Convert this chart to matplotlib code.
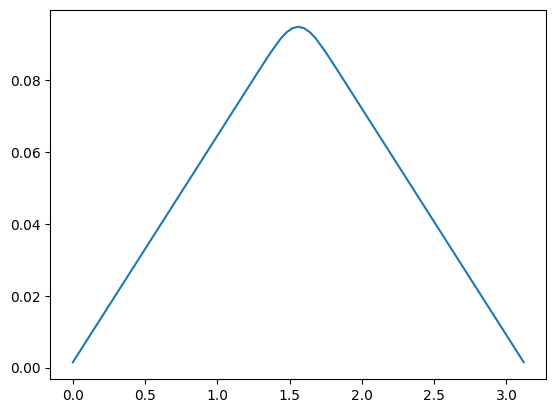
import matplotlib
matplotlib.use("Agg")
import matplotlib.pyplot as plt

# Values
x_vals = [0.00, 0.20, 0.40, 0.60, 0.80, 1.00, 1.20, 1.30, 1.36,
          1.40, 1.44, 1.48, 1.52, 1.56, 1.60, 1.64, 1.68, 1.72,
          1.76, 1.82, 1.92, 2.12, 2.32, 2.52, 2.72, 2.92, 3.12]
y_vals = [0.0016, 0.0142, 0.0268, 0.0394, 0.0520, 0.0646, 0.0772, 0.0835, 0.0872,
          0.0895, 0.0917, 0.0934, 0.0945, 0.0949, 0.0945, 0.0934, 0.0917, 0.0895,
          0.0872, 0.0835, 0.0772, 0.0646, 0.0520, 0.0394, 0.0268, 0.0142, 0.0016]

fig = plt.figure(figsize=(5.56, 4.13), dpi=100)
ax = fig.add_axes([0.0905, 0.0823, 0.892, 0.8935])
ax.plot(x_vals, y_vals)

fig.savefig("out.png", dpi=100)
